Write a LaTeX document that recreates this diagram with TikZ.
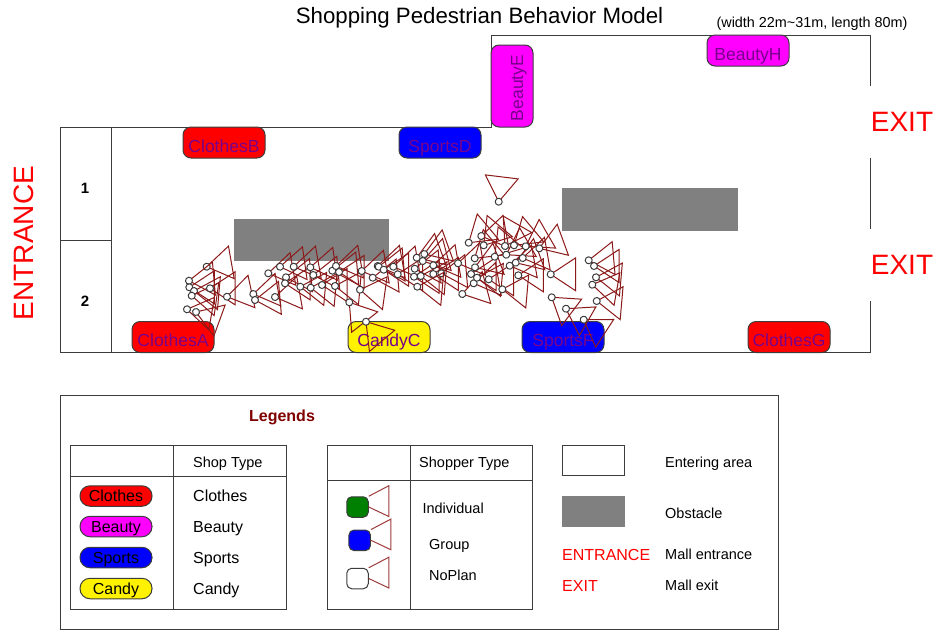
\documentclass[tikz,border=0pt]{standalone}
\usepackage{fontspec}
\setmainfont{Liberation Sans}
\definecolor{conered}{RGB}{140,25,25}
\definecolor{shopink}{RGB}{120,0,140}
\definecolor{linegray}{RGB}{60,60,60}
\definecolor{beautypink}{RGB}{255,0,255}
\tikzset{
	wall/.style={draw=linegray,line width=1pt},
	shopbox/.style={draw=linegray,line width=1pt,rounded corners=8pt,minimum width=82pt,minimum height=31pt,inner sep=0pt,text=shopink,text height=19pt,text depth=0pt,font=\fontsize{17.5}{17.5}\selectfont},
	pill/.style={draw=linegray,line width=1pt,rounded corners=10pt,minimum width=72pt,minimum height=20.5pt,inner sep=0pt,text height=11.5pt,text depth=0pt,font=\fontsize{16}{16}\selectfont},
	iconbox/.style={draw=linegray,line width=1pt,rounded corners=5pt,minimum width=21.5pt,minimum height=20.5pt,inner sep=0pt},
	cone/.style={draw=conered,line width=1pt},
	txt/.style={anchor=west,inner sep=0pt,text height=10.4pt,text depth=0pt,font=\fontsize{14.5}{14.5}\selectfont},
	bigtxt/.style={txt,text height=11.5pt,font=\fontsize{16}{16}\selectfont},
	bigred/.style={text=red,inner sep=0pt,font=\fontsize{28}{28}\selectfont}
}
\begin{document}
\begin{tikzpicture}[x=1pt,y=-1pt]
	\useasboundingbox (0,0) rectangle (936,630);
	\node[font=\fontsize{22.25}{22.25}\selectfont,inner sep=0pt] (title) at (479.5,18) {Shopping Pedestrian Behavior Model};
	\node[font=\fontsize{14.4}{14.4}\selectfont,inner sep=0pt] (size) at (812,23.5) {(width 22m\textasciitilde31m, length 80m)};
	% mall outline
	\draw[wall] (870,86) -- (870,35) -- (491,35) -- (491,127) -- (60,127) -- (60,352) -- (870,352) -- (870,301);
	\draw[wall] (870,158) -- (870,229);
	\draw[wall] (111,127) -- (111,352);
	\draw[wall] (60,240) -- (111,240);
	\node[font=\bfseries\fontsize{15}{15}\selectfont] (area1) at (85,188) {1};
	\node[font=\bfseries\fontsize{15}{15}\selectfont] (area2) at (85,301) {2};
	\node[bigred,rotate=90] (entrance) at (24,243) {ENTRANCE};
	\node[bigred] (exit1) at (902,122) {EXIT};
	\node[bigred] (exit2) at (902,265) {EXIT};
	\fill[gray] (234,219) rectangle (389,261);
	\fill[gray] (562,188) rectangle (738,231);
	% shops
	\node[shopbox,fill=red] (clothesB) at (224,142.5) {ClothesB};
	\node[shopbox,fill=blue] (sportsD) at (440,142.5) {SportsD};
	\node[shopbox,fill=beautypink,minimum width=42pt,minimum height=82pt,text height=70pt] (beautyE) at (512,86) {\hspace*{14pt}\rotatebox{90}{BeautyE}};
	\node[shopbox,fill=beautypink] (beautyH) at (748,50.5) {BeautyH};
	\node[shopbox,fill=red] (clothesA) at (173,337) {ClothesA};
	\node[shopbox,fill=yellow] (candyC) at (389,337) {CandyC};
	\node[shopbox,fill=blue] (sportsF) at (563,337) {SportsF};
	\node[shopbox,fill=red] (clothesG) at (789,337) {ClothesG};
	% shoppers
	\foreach \x/\y/\a in {
		206.7/266.7/10,189/280.7/5,189.3/287.3/0,194/291/-5,191.7/295.7/-8,210/288.3/0,227/296.7/12,187/309.3/-10,196/312/-20,
		253.3/294/10,255/300/5,268.3/273.3/10,275/297/10,280/266.7/8,286/277.3/5,285/283.3/0,293.7/266.7/10,300.3/286.7/-5,
		310.3/267.3/8,310.7/287.7/-5,313.3/275/5,322/285/0,335/286/-5,332.3/270.7/5,336/266/10,339/272/0,360/289.7/-8,361.7/271/10,
		372.7/277.7/5,377.7/266/10,378.7/266.7/5,383.7/269.7/0,393.3/266.7/10,397.7/274.3/0,414.7/268.7/5,414/276.7/0,420.7/276/-5,
		416.7/257.7/20,422.7/261/15,424.3/254/20,433.3/265.3/10,433.3/274/0,441.3/273.3/5,417.3/286.7/-5,
		349.3/302.3/-52,366/321.7/-50,
		458/263.3/10,462.3/294/15,468.7/242.7/40,471/274/0,473.7/283.3/10,474.7/258.3/40,475/267.3/20,477/277.7/-5,481.3/236/10,
		483.7/245.3/50,488.7/279.3/0,494.7/256.7/50,502.3/289.3/-5,505/246/60,506.3/254.7/30,509.7/265.7/10,514/245.3/40,
		515.7/262.7/20,518.3/275.3/0,522.7/258/10,525.7/246.3/30,539.3/248.3/20,498.7/201.7/83,550.7/274.3/0,
		588.7/260.3/5,594/266/0,596/277.3/-5,592.3/284.7/-10,596.7/301/-5,551.7/297.3/-37,566/308.7/-30,583.7/319.7/-33} {
		\begin{scope}[shift={(\x,\y)},rotate=\a]
			\draw[cone] (0,0) -- (25,-16.5) -- (25,16.5) -- cycle;
			\draw[fill=white,draw=linegray,line width=1pt] (0,0) circle (3.5);
		\end{scope}
	}
	% legends
	\draw[wall] (60.5,395.5) rectangle (778,629);
	\node[text=red!50!black,inner sep=0pt,font=\bfseries\fontsize{16}{16}\selectfont] (legends) at (282,417) {Legends};
	\draw[wall] (70,445) rectangle (286,609);
	\draw[wall] (173,445) -- (173,609);
	\draw[wall] (70,476) -- (286,476);
	\node[txt] (shoptype) at (193,462) {Shop Type};
	\foreach \name/\col/\y in {Clothes/red/496,Beauty/beautypink/526.5,Sports/blue/557.5,Candy/yellow/588.5} {
		\node[pill,fill=\col] (pill\name) at (116,\y) {\name};
		\node[bigtxt] (label\name) at (193,\y) {\name};
	}
	\draw[wall] (327,445) rectangle (532,609);
	\draw[wall] (410,445) -- (410,609);
	\draw[wall] (327,480) -- (532,480);
	\node[txt] (shoppertype) at (419,462) {Shopper Type};
	\node[iconbox,fill=green!50!black] (iconI) at (357.5,507) {};
	\node[iconbox,fill=blue] (iconG) at (359.7,540.3) {};
	\node[iconbox,fill=white] (iconN) at (357.5,578.5) {};
	\foreach \icon in {iconI,iconG,iconN}
		\draw[cone,conered!85] (\icon.north east) -- ++(20,-10.5) -- ++(0,30.7) -- (\icon.east);
	\node[txt] (individual) at (422.3,508) {Individual};
	\node[txt] (group) at (429,544) {Group};
	\node[txt] (noplan) at (429,575) {NoPlan};
	\draw[wall,fill=white] (562.5,445) rectangle (624.7,475.7);
	\fill[gray] (562,496) rectangle (625,527);
	\node[bigtxt,text=red] (legentrance) at (562,555) {ENTRANCE};
	\node[bigtxt,text=red] (legexit) at (562,586) {EXIT};
	\node[txt] (entering) at (665,462) {Entering area};
	\node[txt] (obstacle) at (665,513) {Obstacle};
	\node[txt] (mallentrance) at (665,554) {Mall entrance};
	\node[txt] (mallexit) at (665,585) {Mall exit};
\end{tikzpicture}
\end{document}
